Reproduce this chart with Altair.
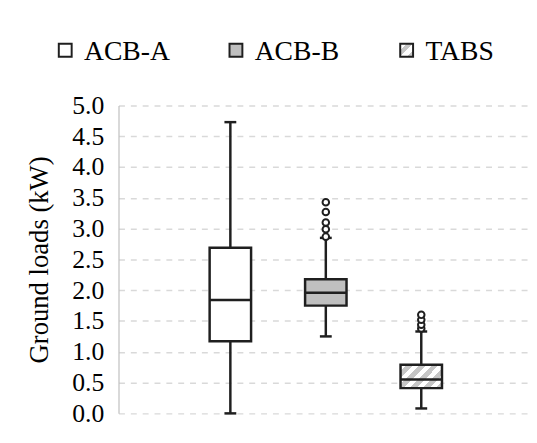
import altair as alt
import pandas as pd

# ---- data ----
categories = ["ACB-A", "ACB-B", "TABS"]
lower_whisker = [0.0, 1.25, 0.08]
q1 = [1.17, 1.75, 0.41]
median = [1.84, 1.96, 0.55]
q3 = [2.69, 2.18, 0.79]
upper_whisker = [4.73, 2.85, 1.33]
outlier_cat = ["ACB-B"] * 5 + ["TABS"] * 4
outlier_val = [2.87, 2.99, 3.10, 3.27, 3.43, 1.38, 1.44, 1.52, 1.60]
y_ticks = [0.0, 0.5, 1.0, 1.5, 2.0, 2.5, 3.0, 3.5, 4.0, 4.5, 5.0]

stats = pd.DataFrame({"cat": categories, "lo": lower_whisker, "q1": q1,
                      "med": median, "q3": q3, "hi": upper_whisker})
outl = pd.DataFrame({"cat": outlier_cat, "val": outlier_val})
leg = pd.DataFrame({"cat": categories})

FONT = "Liberation Serif"
INK = "#1f1f1f"
CAT_EXPR = "indexof(" + str(categories) + ", datum.cat)"


def stripes(n, x2, y2):
    stops = []
    for i in range(n):
        a, b, c = i / n, (i + 0.5) / n, (i + 1) / n
        stops += [{"offset": a, "color": "white"}, {"offset": b, "color": "white"},
                  {"offset": b, "color": "#c6c6c6"}, {"offset": c, "color": "#c6c6c6"}]
    return {"gradient": "linear", "x1": 0, "y1": 0, "x2": x2, "y2": y2, "stops": stops}


def fill_for(grad):
    return (alt.when(alt.datum.cat == "ACB-B").then(alt.value("#bfbfbf"))
            .when(alt.datum.cat == "TABS").then(alt.value(grad))
            .otherwise(alt.value("white")))


# category slot -> horizontal position (linear slot scale)
xs = alt.X("slot:Q", scale=alt.Scale(domain=[-1.12, 3.077], nice=False, zero=False), axis=None)
ys = alt.Scale(domain=[0, 5], nice=False, zero=True)
yaxis = alt.Axis(values=y_ticks, format=".1f", labelOverlap=False, labelBound=False,
                 labelFlush=False)

base = alt.Chart(stats).transform_calculate(slot=CAT_EXPR)
whisk = base.mark_rule(color=INK, strokeWidth=2.5).encode(
    x=xs,
    y=alt.Y("lo:Q", scale=ys, title="Ground loads (kW)", axis=yaxis),
    y2="hi:Q")
caps_lo = base.mark_tick(color=INK, size=12, thickness=2.5, opacity=1,
                         orient="horizontal").encode(x=xs, y="lo:Q")
caps_hi = base.mark_tick(color=INK, size=12, thickness=2.5, opacity=1,
                         orient="horizontal").encode(x=xs, y="hi:Q")
box = base.mark_bar(size=42, stroke=INK, strokeWidth=2.5, strokeJoin="miter",
                    orient="vertical").encode(
    x=xs, y="q1:Q", y2="q3:Q", fill=fill_for(stripes(5, 1.19, 0.655)))
med = base.mark_tick(color=INK, size=42, thickness=2.5, opacity=1,
                     orient="horizontal").encode(x=xs, y="med:Q")
pts = alt.Chart(outl).transform_calculate(slot=CAT_EXPR).mark_point(
    shape="circle", filled=False, fill="white", stroke=INK,
    strokeWidth=2, size=44, opacity=1).encode(x=xs, y="val:Q")

main = alt.layer(whisk, caps_lo, caps_hi, box, med, pts)

lx = alt.X("cat:N", scale=alt.Scale(type="point", domain=categories, range=[-54, 292], padding=0),
           axis=None)
leg_sym = alt.Chart(leg).mark_square(size=170, stroke=INK, strokeWidth=2, opacity=1).encode(
    x=lx, y=alt.value(-56), fill=fill_for(stripes(2, 1, 1)))
leg_txt = alt.Chart(leg).mark_text(align="left", baseline="middle", dx=19, font=FONT,
                                   fontSize=28, color="black").encode(
    x=lx, y=alt.value(-54), text="cat:N")
legend = alt.layer(leg_sym, leg_txt)

chart = alt.layer(main, legend).resolve_scale(x="independent").properties(
    width=416, height=312,
    autosize=alt.AutoSizeParams(type="none"),
    padding={"left": 112, "top": 96, "right": 0, "bottom": 12},
    background="white",
).configure_view(stroke=None).configure_axisY(
    labelFont=FONT, labelFontSize=26, labelColor="black", labelPadding=15,
    labelOverlap=False, tickCount=11,
    ticks=False, domainColor="#bfbfbf", domainWidth=1.2,
    grid=True, gridColor="#d9d9d9", gridDash=[6, 6], gridWidth=1.5,
    titleFont=FONT, titleFontSize=27, titleFontWeight="normal", titleColor="black",
    titlePadding=18,
)

chart.save("out.html", embed_options={"renderer": "svg", "actions": False})
